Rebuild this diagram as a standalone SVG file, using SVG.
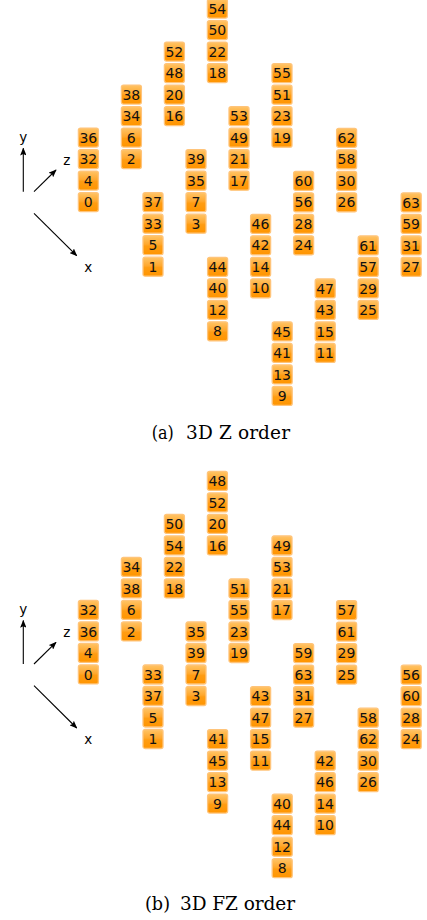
<svg xmlns="http://www.w3.org/2000/svg" xmlns:xlink="http://www.w3.org/1999/xlink" width="427" height="920" viewBox="0 0 427 920">
<defs>
<linearGradient id="og" x1="0" y1="0" x2="0" y2="1">
<stop offset="0" stop-color="#FFC466"/>
<stop offset="0.45" stop-color="#FFA82E"/>
<stop offset="0.55" stop-color="#FF9C12"/>
<stop offset="1" stop-color="#FF9500"/>
</linearGradient>
<marker id="ah" viewBox="0 0 10 8" refX="9" refY="4" markerWidth="8" markerHeight="6.4" orient="auto" markerUnits="userSpaceOnUse">
<path d="M0,0 L10,4 L0,8 L2,4 z" fill="#000"/>
</marker>
<rect id="bx" x="0.6" y="0.6" width="20" height="19" rx="2" ry="2"/>
</defs>
<style>
#bx{fill:url(#og);stroke:#FFC47A;stroke-width:1.3}
.n text{font-family:"DejaVu Sans",Verdana,sans-serif;font-size:14px;fill:#111;text-anchor:middle}
.ax{stroke:#000;stroke-width:1.1;fill:none;marker-end:url(#ah)}
.al{font-family:"DejaVu Sans",sans-serif;font-size:13.5px;fill:#000;text-anchor:middle}
.cap{font-family:"DejaVu Serif","Liberation Serif",serif;font-size:18.5px;fill:#000}
</style>
<rect width="427" height="920" fill="#fff"/>

<g id="connectors">
<g id="axes-a">
<line class="ax" x1="23.3" y1="191.7" x2="23.3" y2="148.3"/>
<line class="ax" x1="34" y1="191.7" x2="56" y2="170"/>
<line class="ax" x1="34" y1="213.3" x2="76.7" y2="255.7"/>
</g>
<g id="axes-b">
<line class="ax" x1="23.3" y1="664" x2="23.3" y2="620.6"/>
<line class="ax" x1="34" y1="664" x2="56" y2="642.3"/>
<line class="ax" x1="34" y1="685.6" x2="76.7" y2="728"/>
</g>
</g>
<g id="axis-labels">
<text class="al" x="23.3" y="142">y</text>
<text class="al" x="66.7" y="165">z</text>
<text class="al" x="88.3" y="271.5">x</text>
<text class="al" x="23.3" y="614.3">y</text>
<text class="al" x="66.7" y="637.3">z</text>
<text class="al" x="88.3" y="743.8">x</text>
</g>

<g id="panel-a" class="n">
<g transform="translate(77.8,127.5)"><g id="a36"><use xlink:href="#bx"/><text x="10.5" y="15.3">36</text></g><g id="a32" transform="translate(0,21.5)"><use xlink:href="#bx"/><text x="10.5" y="15.3">32</text></g><g id="a4" transform="translate(0,43)"><use xlink:href="#bx"/><text x="10.5" y="15.3">4</text></g><g id="a0" transform="translate(0,64.5)"><use xlink:href="#bx"/><text x="10.5" y="15.3">0</text></g></g>
<g transform="translate(120.8,84.5)"><g id="a38"><use xlink:href="#bx"/><text x="10.5" y="15.3">38</text></g><g id="a34" transform="translate(0,21.5)"><use xlink:href="#bx"/><text x="10.5" y="15.3">34</text></g><g id="a6" transform="translate(0,43)"><use xlink:href="#bx"/><text x="10.5" y="15.3">6</text></g><g id="a2" transform="translate(0,64.5)"><use xlink:href="#bx"/><text x="10.5" y="15.3">2</text></g></g>
<g transform="translate(163.8,41.5)"><g id="a52"><use xlink:href="#bx"/><text x="10.5" y="15.3">52</text></g><g id="a48" transform="translate(0,21.5)"><use xlink:href="#bx"/><text x="10.5" y="15.3">48</text></g><g id="a20" transform="translate(0,43)"><use xlink:href="#bx"/><text x="10.5" y="15.3">20</text></g><g id="a16" transform="translate(0,64.5)"><use xlink:href="#bx"/><text x="10.5" y="15.3">16</text></g></g>
<g transform="translate(206.8,-1.5)"><g id="a54"><use xlink:href="#bx"/><text x="10.5" y="15.3">54</text></g><g id="a50" transform="translate(0,21.5)"><use xlink:href="#bx"/><text x="10.5" y="15.3">50</text></g><g id="a22" transform="translate(0,43)"><use xlink:href="#bx"/><text x="10.5" y="15.3">22</text></g><g id="a18" transform="translate(0,64.5)"><use xlink:href="#bx"/><text x="10.5" y="15.3">18</text></g></g>
<g transform="translate(142.4,192.1)"><g id="a37"><use xlink:href="#bx"/><text x="10.5" y="15.3">37</text></g><g id="a33" transform="translate(0,21.5)"><use xlink:href="#bx"/><text x="10.5" y="15.3">33</text></g><g id="a5" transform="translate(0,43)"><use xlink:href="#bx"/><text x="10.5" y="15.3">5</text></g><g id="a1" transform="translate(0,64.5)"><use xlink:href="#bx"/><text x="10.5" y="15.3">1</text></g></g>
<g transform="translate(185.4,149.1)"><g id="a39"><use xlink:href="#bx"/><text x="10.5" y="15.3">39</text></g><g id="a35" transform="translate(0,21.5)"><use xlink:href="#bx"/><text x="10.5" y="15.3">35</text></g><g id="a7" transform="translate(0,43)"><use xlink:href="#bx"/><text x="10.5" y="15.3">7</text></g><g id="a3" transform="translate(0,64.5)"><use xlink:href="#bx"/><text x="10.5" y="15.3">3</text></g></g>
<g transform="translate(228.4,106.1)"><g id="a53"><use xlink:href="#bx"/><text x="10.5" y="15.3">53</text></g><g id="a49" transform="translate(0,21.5)"><use xlink:href="#bx"/><text x="10.5" y="15.3">49</text></g><g id="a21" transform="translate(0,43)"><use xlink:href="#bx"/><text x="10.5" y="15.3">21</text></g><g id="a17" transform="translate(0,64.5)"><use xlink:href="#bx"/><text x="10.5" y="15.3">17</text></g></g>
<g transform="translate(271.4,63.1)"><g id="a55"><use xlink:href="#bx"/><text x="10.5" y="15.3">55</text></g><g id="a51" transform="translate(0,21.5)"><use xlink:href="#bx"/><text x="10.5" y="15.3">51</text></g><g id="a23" transform="translate(0,43)"><use xlink:href="#bx"/><text x="10.5" y="15.3">23</text></g><g id="a19" transform="translate(0,64.5)"><use xlink:href="#bx"/><text x="10.5" y="15.3">19</text></g></g>
<g transform="translate(207,256.7)"><g id="a44"><use xlink:href="#bx"/><text x="10.5" y="15.3">44</text></g><g id="a40" transform="translate(0,21.5)"><use xlink:href="#bx"/><text x="10.5" y="15.3">40</text></g><g id="a12" transform="translate(0,43)"><use xlink:href="#bx"/><text x="10.5" y="15.3">12</text></g><g id="a8" transform="translate(0,64.5)"><use xlink:href="#bx"/><text x="10.5" y="15.3">8</text></g></g>
<g transform="translate(250,213.7)"><g id="a46"><use xlink:href="#bx"/><text x="10.5" y="15.3">46</text></g><g id="a42" transform="translate(0,21.5)"><use xlink:href="#bx"/><text x="10.5" y="15.3">42</text></g><g id="a14" transform="translate(0,43)"><use xlink:href="#bx"/><text x="10.5" y="15.3">14</text></g><g id="a10" transform="translate(0,64.5)"><use xlink:href="#bx"/><text x="10.5" y="15.3">10</text></g></g>
<g transform="translate(293,170.7)"><g id="a60"><use xlink:href="#bx"/><text x="10.5" y="15.3">60</text></g><g id="a56" transform="translate(0,21.5)"><use xlink:href="#bx"/><text x="10.5" y="15.3">56</text></g><g id="a28" transform="translate(0,43)"><use xlink:href="#bx"/><text x="10.5" y="15.3">28</text></g><g id="a24" transform="translate(0,64.5)"><use xlink:href="#bx"/><text x="10.5" y="15.3">24</text></g></g>
<g transform="translate(336,127.7)"><g id="a62"><use xlink:href="#bx"/><text x="10.5" y="15.3">62</text></g><g id="a58" transform="translate(0,21.5)"><use xlink:href="#bx"/><text x="10.5" y="15.3">58</text></g><g id="a30" transform="translate(0,43)"><use xlink:href="#bx"/><text x="10.5" y="15.3">30</text></g><g id="a26" transform="translate(0,64.5)"><use xlink:href="#bx"/><text x="10.5" y="15.3">26</text></g></g>
<g transform="translate(271.6,321.3)"><g id="a45"><use xlink:href="#bx"/><text x="10.5" y="15.3">45</text></g><g id="a41" transform="translate(0,21.5)"><use xlink:href="#bx"/><text x="10.5" y="15.3">41</text></g><g id="a13" transform="translate(0,43)"><use xlink:href="#bx"/><text x="10.5" y="15.3">13</text></g><g id="a9" transform="translate(0,64.5)"><use xlink:href="#bx"/><text x="10.5" y="15.3">9</text></g></g>
<g transform="translate(314.6,278.3)"><g id="a47"><use xlink:href="#bx"/><text x="10.5" y="15.3">47</text></g><g id="a43" transform="translate(0,21.5)"><use xlink:href="#bx"/><text x="10.5" y="15.3">43</text></g><g id="a15" transform="translate(0,43)"><use xlink:href="#bx"/><text x="10.5" y="15.3">15</text></g><g id="a11" transform="translate(0,64.5)"><use xlink:href="#bx"/><text x="10.5" y="15.3">11</text></g></g>
<g transform="translate(357.6,235.3)"><g id="a61"><use xlink:href="#bx"/><text x="10.5" y="15.3">61</text></g><g id="a57" transform="translate(0,21.5)"><use xlink:href="#bx"/><text x="10.5" y="15.3">57</text></g><g id="a29" transform="translate(0,43)"><use xlink:href="#bx"/><text x="10.5" y="15.3">29</text></g><g id="a25" transform="translate(0,64.5)"><use xlink:href="#bx"/><text x="10.5" y="15.3">25</text></g></g>
<g transform="translate(400.6,192.3)"><g id="a63"><use xlink:href="#bx"/><text x="10.5" y="15.3">63</text></g><g id="a59" transform="translate(0,21.5)"><use xlink:href="#bx"/><text x="10.5" y="15.3">59</text></g><g id="a31" transform="translate(0,43)"><use xlink:href="#bx"/><text x="10.5" y="15.3">31</text></g><g id="a27" transform="translate(0,64.5)"><use xlink:href="#bx"/><text x="10.5" y="15.3">27</text></g></g>
</g>

<g id="panel-b" class="n">
<g transform="translate(77.8,599.8)"><g id="b32"><use xlink:href="#bx"/><text x="10.5" y="15.3">32</text></g><g id="b36" transform="translate(0,21.5)"><use xlink:href="#bx"/><text x="10.5" y="15.3">36</text></g><g id="b4" transform="translate(0,43)"><use xlink:href="#bx"/><text x="10.5" y="15.3">4</text></g><g id="b0" transform="translate(0,64.5)"><use xlink:href="#bx"/><text x="10.5" y="15.3">0</text></g></g>
<g transform="translate(120.8,556.8)"><g id="b34"><use xlink:href="#bx"/><text x="10.5" y="15.3">34</text></g><g id="b38" transform="translate(0,21.5)"><use xlink:href="#bx"/><text x="10.5" y="15.3">38</text></g><g id="b6" transform="translate(0,43)"><use xlink:href="#bx"/><text x="10.5" y="15.3">6</text></g><g id="b2" transform="translate(0,64.5)"><use xlink:href="#bx"/><text x="10.5" y="15.3">2</text></g></g>
<g transform="translate(163.8,513.8)"><g id="b50"><use xlink:href="#bx"/><text x="10.5" y="15.3">50</text></g><g id="b54" transform="translate(0,21.5)"><use xlink:href="#bx"/><text x="10.5" y="15.3">54</text></g><g id="b22" transform="translate(0,43)"><use xlink:href="#bx"/><text x="10.5" y="15.3">22</text></g><g id="b18" transform="translate(0,64.5)"><use xlink:href="#bx"/><text x="10.5" y="15.3">18</text></g></g>
<g transform="translate(206.8,470.8)"><g id="b48"><use xlink:href="#bx"/><text x="10.5" y="15.3">48</text></g><g id="b52" transform="translate(0,21.5)"><use xlink:href="#bx"/><text x="10.5" y="15.3">52</text></g><g id="b20" transform="translate(0,43)"><use xlink:href="#bx"/><text x="10.5" y="15.3">20</text></g><g id="b16" transform="translate(0,64.5)"><use xlink:href="#bx"/><text x="10.5" y="15.3">16</text></g></g>
<g transform="translate(142.4,664.4)"><g id="b33"><use xlink:href="#bx"/><text x="10.5" y="15.3">33</text></g><g id="b37" transform="translate(0,21.5)"><use xlink:href="#bx"/><text x="10.5" y="15.3">37</text></g><g id="b5" transform="translate(0,43)"><use xlink:href="#bx"/><text x="10.5" y="15.3">5</text></g><g id="b1" transform="translate(0,64.5)"><use xlink:href="#bx"/><text x="10.5" y="15.3">1</text></g></g>
<g transform="translate(185.4,621.4)"><g id="b35"><use xlink:href="#bx"/><text x="10.5" y="15.3">35</text></g><g id="b39" transform="translate(0,21.5)"><use xlink:href="#bx"/><text x="10.5" y="15.3">39</text></g><g id="b7" transform="translate(0,43)"><use xlink:href="#bx"/><text x="10.5" y="15.3">7</text></g><g id="b3" transform="translate(0,64.5)"><use xlink:href="#bx"/><text x="10.5" y="15.3">3</text></g></g>
<g transform="translate(228.4,578.4)"><g id="b51"><use xlink:href="#bx"/><text x="10.5" y="15.3">51</text></g><g id="b55" transform="translate(0,21.5)"><use xlink:href="#bx"/><text x="10.5" y="15.3">55</text></g><g id="b23" transform="translate(0,43)"><use xlink:href="#bx"/><text x="10.5" y="15.3">23</text></g><g id="b19" transform="translate(0,64.5)"><use xlink:href="#bx"/><text x="10.5" y="15.3">19</text></g></g>
<g transform="translate(271.4,535.4)"><g id="b49"><use xlink:href="#bx"/><text x="10.5" y="15.3">49</text></g><g id="b53" transform="translate(0,21.5)"><use xlink:href="#bx"/><text x="10.5" y="15.3">53</text></g><g id="b21" transform="translate(0,43)"><use xlink:href="#bx"/><text x="10.5" y="15.3">21</text></g><g id="b17" transform="translate(0,64.5)"><use xlink:href="#bx"/><text x="10.5" y="15.3">17</text></g></g>
<g transform="translate(207,729)"><g id="b41"><use xlink:href="#bx"/><text x="10.5" y="15.3">41</text></g><g id="b45" transform="translate(0,21.5)"><use xlink:href="#bx"/><text x="10.5" y="15.3">45</text></g><g id="b13" transform="translate(0,43)"><use xlink:href="#bx"/><text x="10.5" y="15.3">13</text></g><g id="b9" transform="translate(0,64.5)"><use xlink:href="#bx"/><text x="10.5" y="15.3">9</text></g></g>
<g transform="translate(250,686)"><g id="b43"><use xlink:href="#bx"/><text x="10.5" y="15.3">43</text></g><g id="b47" transform="translate(0,21.5)"><use xlink:href="#bx"/><text x="10.5" y="15.3">47</text></g><g id="b15" transform="translate(0,43)"><use xlink:href="#bx"/><text x="10.5" y="15.3">15</text></g><g id="b11" transform="translate(0,64.5)"><use xlink:href="#bx"/><text x="10.5" y="15.3">11</text></g></g>
<g transform="translate(293,643)"><g id="b59"><use xlink:href="#bx"/><text x="10.5" y="15.3">59</text></g><g id="b63" transform="translate(0,21.5)"><use xlink:href="#bx"/><text x="10.5" y="15.3">63</text></g><g id="b31" transform="translate(0,43)"><use xlink:href="#bx"/><text x="10.5" y="15.3">31</text></g><g id="b27" transform="translate(0,64.5)"><use xlink:href="#bx"/><text x="10.5" y="15.3">27</text></g></g>
<g transform="translate(336,600)"><g id="b57"><use xlink:href="#bx"/><text x="10.5" y="15.3">57</text></g><g id="b61" transform="translate(0,21.5)"><use xlink:href="#bx"/><text x="10.5" y="15.3">61</text></g><g id="b29" transform="translate(0,43)"><use xlink:href="#bx"/><text x="10.5" y="15.3">29</text></g><g id="b25" transform="translate(0,64.5)"><use xlink:href="#bx"/><text x="10.5" y="15.3">25</text></g></g>
<g transform="translate(271.6,793.6)"><g id="b40"><use xlink:href="#bx"/><text x="10.5" y="15.3">40</text></g><g id="b44" transform="translate(0,21.5)"><use xlink:href="#bx"/><text x="10.5" y="15.3">44</text></g><g id="b12" transform="translate(0,43)"><use xlink:href="#bx"/><text x="10.5" y="15.3">12</text></g><g id="b8" transform="translate(0,64.5)"><use xlink:href="#bx"/><text x="10.5" y="15.3">8</text></g></g>
<g transform="translate(314.6,750.6)"><g id="b42"><use xlink:href="#bx"/><text x="10.5" y="15.3">42</text></g><g id="b46" transform="translate(0,21.5)"><use xlink:href="#bx"/><text x="10.5" y="15.3">46</text></g><g id="b14" transform="translate(0,43)"><use xlink:href="#bx"/><text x="10.5" y="15.3">14</text></g><g id="b10" transform="translate(0,64.5)"><use xlink:href="#bx"/><text x="10.5" y="15.3">10</text></g></g>
<g transform="translate(357.6,707.6)"><g id="b58"><use xlink:href="#bx"/><text x="10.5" y="15.3">58</text></g><g id="b62" transform="translate(0,21.5)"><use xlink:href="#bx"/><text x="10.5" y="15.3">62</text></g><g id="b30" transform="translate(0,43)"><use xlink:href="#bx"/><text x="10.5" y="15.3">30</text></g><g id="b26" transform="translate(0,64.5)"><use xlink:href="#bx"/><text x="10.5" y="15.3">26</text></g></g>
<g transform="translate(400.6,664.6)"><g id="b56"><use xlink:href="#bx"/><text x="10.5" y="15.3">56</text></g><g id="b60" transform="translate(0,21.5)"><use xlink:href="#bx"/><text x="10.5" y="15.3">60</text></g><g id="b28" transform="translate(0,43)"><use xlink:href="#bx"/><text x="10.5" y="15.3">28</text></g><g id="b24" transform="translate(0,64.5)"><use xlink:href="#bx"/><text x="10.5" y="15.3">24</text></g></g>
</g>

<g id="captions">
<text class="cap" x="151.7" y="439.3" textLength="22" lengthAdjust="spacingAndGlyphs">(a)</text>
<text class="cap" x="186" y="439.3" textLength="104" lengthAdjust="spacing">3D Z order</text>
<text class="cap" x="145" y="910" textLength="25" lengthAdjust="spacingAndGlyphs">(b)</text>
<text class="cap" x="180" y="910" textLength="115" lengthAdjust="spacing">3D FZ order</text>
</g>
</svg>
